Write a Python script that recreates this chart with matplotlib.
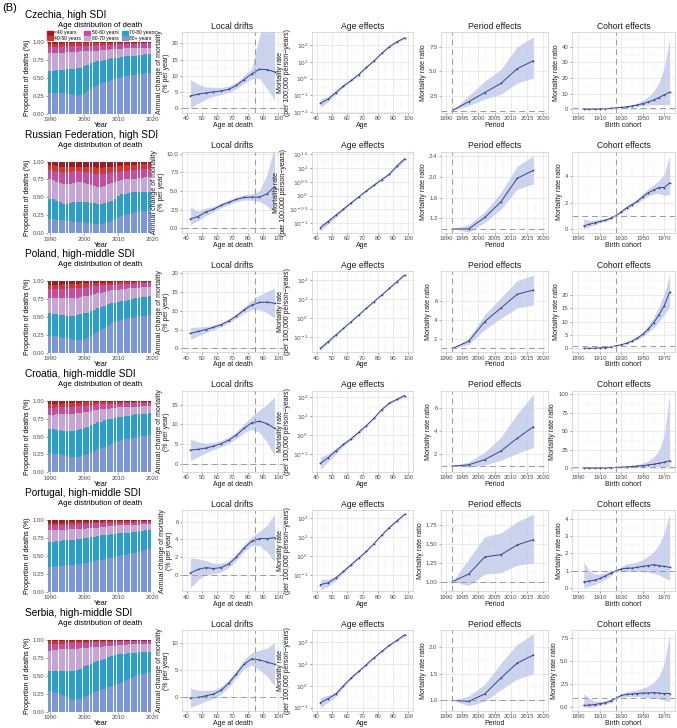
import numpy as np
import matplotlib.pyplot as plt
from matplotlib.ticker import FixedLocator, AutoMinorLocator
from matplotlib.patches import Patch

plt.rcParams['font.family'] = ['Liberation Sans', 'DejaVu Sans']

# ---------------- data ----------------
years = list(range(1990, 2020))
ages = [42.5, 47.5, 52.5, 57.5, 62.5, 67.5, 72.5, 77.5, 82.5, 87.5, 92.5, 97.5]
periods = [1992, 1997, 2002, 2007, 2012, 2017]
cohorts = [1895, 1900, 1905, 1910, 1915, 1920, 1925, 1930, 1935, 1940,
           1945, 1950, 1955, 1960, 1965, 1970, 1975]
age_groups = ['<40 years', '40-50 years', '50-60 years', '60-70 years', '70-80 years', '80+ years']
group_colors = ['#9b1c22', '#d9312d', '#c94b9e', '#c7a5d9', '#2a9fca', '#7c97d9']

countries = ['Czechia, high SDI', 'Russian Federation, high SDI', 'Poland, high-middle SDI',
             'Croatia, high-middle SDI', 'Portugal, high-middle SDI', 'Serbia, high-middle SDI']

# cumulative share of deaths at age >= 80, >= 70, >= 60, >= 50, >= 40
cz_80 = [0.28,0.28,0.28,0.28,0.28,0.28,0.27,0.26,0.25,0.26,0.28,0.31,0.34,0.37,0.40,0.42,0.44,0.46,0.47,0.48,0.50,0.51,0.52,0.53,0.54,0.54,0.55,0.55,0.56,0.56]
cz_70 = [0.60,0.60,0.61,0.61,0.61,0.62,0.62,0.62,0.63,0.64,0.66,0.68,0.70,0.72,0.73,0.74,0.75,0.76,0.77,0.78,0.78,0.79,0.80,0.80,0.81,0.81,0.82,0.82,0.83,0.83]
cz_60 = [0.85,0.85,0.85,0.85,0.85,0.86,0.86,0.86,0.86,0.87,0.87,0.87,0.88,0.88,0.88,0.89,0.89,0.89,0.90,0.90,0.90,0.90,0.91,0.91,0.91,0.91,0.92,0.92,0.92,0.92]
cz_50 = [0.93,0.93,0.93,0.93,0.94,0.94,0.94,0.94,0.94,0.95,0.95,0.95,0.95,0.95,0.96,0.96,0.96,0.96,0.96,0.96,0.97,0.97,0.97,0.97,0.97,0.97,0.97,0.97,0.98,0.98]
cz_40 = [0.97,0.97,0.97,0.97,0.98,0.98,0.98,0.98,0.98,0.98,0.98,0.98,0.98,0.98,0.98,0.98,0.99,0.99,0.99,0.99,0.99,0.99,0.99,0.99,0.99,0.99,0.99,0.99,0.99,0.99]

ru_80 = [0.20,0.20,0.19,0.19,0.18,0.17,0.17,0.16,0.16,0.15,0.15,0.14,0.14,0.13,0.13,0.13,0.14,0.15,0.17,0.19,0.22,0.24,0.26,0.27,0.28,0.29,0.30,0.31,0.31,0.32]
ru_70 = [0.48,0.47,0.45,0.43,0.41,0.41,0.42,0.43,0.44,0.44,0.43,0.43,0.42,0.42,0.41,0.41,0.42,0.43,0.45,0.48,0.52,0.54,0.55,0.56,0.57,0.57,0.58,0.58,0.58,0.58]
ru_60 = [0.75,0.74,0.72,0.70,0.68,0.68,0.69,0.70,0.71,0.71,0.70,0.69,0.67,0.66,0.65,0.64,0.66,0.68,0.70,0.72,0.73,0.74,0.75,0.75,0.76,0.76,0.77,0.77,0.78,0.78]
ru_50 = [0.88,0.87,0.86,0.85,0.84,0.85,0.86,0.87,0.87,0.87,0.86,0.85,0.84,0.83,0.83,0.82,0.83,0.84,0.85,0.86,0.86,0.87,0.87,0.87,0.88,0.88,0.88,0.89,0.89,0.89]
ru_40 = [0.95,0.95,0.94,0.93,0.92,0.92,0.93,0.93,0.93,0.93,0.93,0.92,0.92,0.92,0.91,0.91,0.92,0.92,0.93,0.93,0.94,0.94,0.95,0.95,0.95,0.95,0.96,0.96,0.96,0.96]

pl_80 = [0.25,0.24,0.23,0.22,0.21,0.20,0.19,0.18,0.18,0.18,0.19,0.21,0.23,0.26,0.29,0.32,0.35,0.38,0.41,0.43,0.45,0.46,0.47,0.48,0.49,0.50,0.51,0.52,0.52,0.53]
pl_70 = [0.55,0.54,0.54,0.53,0.53,0.52,0.52,0.52,0.53,0.54,0.55,0.56,0.58,0.60,0.62,0.64,0.66,0.68,0.69,0.70,0.71,0.72,0.73,0.74,0.75,0.76,0.77,0.78,0.78,0.79]
pl_60 = [0.77,0.77,0.77,0.76,0.76,0.76,0.76,0.77,0.77,0.78,0.79,0.80,0.81,0.82,0.83,0.84,0.85,0.86,0.87,0.88,0.88,0.89,0.89,0.90,0.90,0.91,0.91,0.92,0.92,0.92]
pl_50 = [0.89,0.89,0.89,0.89,0.89,0.89,0.90,0.90,0.90,0.91,0.91,0.92,0.92,0.93,0.93,0.94,0.94,0.95,0.95,0.95,0.96,0.96,0.96,0.96,0.96,0.97,0.97,0.97,0.97,0.97]
pl_40 = [0.95,0.95,0.95,0.95,0.96,0.96,0.96,0.96,0.96,0.97,0.97,0.97,0.97,0.98,0.98,0.98,0.98,0.98,0.98,0.99,0.99,0.99,0.99,0.99,0.99,0.99,0.99,0.99,0.99,0.99]

hr_80 = [0.27,0.26,0.26,0.25,0.24,0.23,0.22,0.22,0.22,0.23,0.24,0.26,0.28,0.30,0.32,0.34,0.36,0.38,0.40,0.42,0.44,0.45,0.46,0.47,0.48,0.49,0.50,0.51,0.51,0.52]
hr_70 = [0.60,0.60,0.59,0.59,0.58,0.58,0.58,0.58,0.59,0.60,0.62,0.64,0.66,0.68,0.70,0.71,0.73,0.74,0.75,0.76,0.77,0.78,0.79,0.79,0.80,0.81,0.81,0.82,0.82,0.83]
hr_60 = [0.80,0.80,0.81,0.81,0.81,0.82,0.82,0.82,0.83,0.83,0.84,0.85,0.86,0.87,0.87,0.88,0.89,0.89,0.90,0.90,0.91,0.91,0.91,0.92,0.92,0.92,0.92,0.93,0.93,0.93]
hr_50 = [0.90,0.90,0.91,0.91,0.91,0.92,0.92,0.92,0.93,0.93,0.93,0.94,0.94,0.94,0.95,0.95,0.95,0.96,0.96,0.96,0.96,0.96,0.97,0.97,0.97,0.97,0.97,0.97,0.97,0.97]
hr_40 = [0.96,0.96,0.96,0.96,0.97,0.97,0.97,0.97,0.97,0.97,0.98,0.98,0.98,0.98,0.98,0.98,0.98,0.98,0.99,0.99,0.99,0.99,0.99,0.99,0.99,0.99,0.99,0.99,0.99,0.99]

pt_80 = [0.35,0.35,0.36,0.36,0.37,0.37,0.38,0.38,0.39,0.39,0.40,0.41,0.42,0.43,0.44,0.45,0.46,0.47,0.48,0.49,0.50,0.51,0.52,0.53,0.54,0.55,0.56,0.57,0.59,0.60]
pt_70 = [0.70,0.70,0.71,0.71,0.72,0.72,0.73,0.73,0.74,0.74,0.75,0.76,0.77,0.77,0.78,0.79,0.79,0.80,0.81,0.81,0.82,0.82,0.83,0.83,0.84,0.84,0.85,0.85,0.86,0.86]
pt_60 = [0.86,0.86,0.86,0.87,0.87,0.87,0.88,0.88,0.88,0.88,0.88,0.89,0.89,0.90,0.90,0.91,0.91,0.92,0.92,0.92,0.93,0.93,0.93,0.94,0.94,0.94,0.94,0.95,0.95,0.95]
pt_50 = [0.93,0.93,0.93,0.94,0.94,0.94,0.94,0.94,0.95,0.95,0.95,0.95,0.95,0.96,0.96,0.96,0.96,0.96,0.97,0.97,0.97,0.97,0.97,0.97,0.97,0.98,0.98,0.98,0.98,0.98]
pt_40 = [0.97,0.97,0.97,0.97,0.97,0.97,0.98,0.98,0.98,0.98,0.98,0.98,0.98,0.98,0.98,0.98,0.99,0.99,0.99,0.99,0.99,0.99,0.99,0.99,0.99,0.99,0.99,0.99,0.99,0.99]

rs_80 = [0.28,0.27,0.26,0.24,0.22,0.20,0.18,0.16,0.17,0.18,0.20,0.22,0.25,0.27,0.29,0.31,0.32,0.34,0.36,0.37,0.38,0.40,0.43,0.45,0.47,0.49,0.52,0.53,0.54,0.55]
rs_70 = [0.57,0.57,0.57,0.57,0.57,0.57,0.57,0.57,0.58,0.60,0.63,0.65,0.67,0.69,0.71,0.72,0.74,0.76,0.77,0.79,0.80,0.81,0.81,0.82,0.82,0.82,0.83,0.83,0.83,0.83]
rs_60 = [0.85,0.86,0.86,0.87,0.87,0.87,0.88,0.88,0.88,0.89,0.89,0.89,0.90,0.90,0.90,0.90,0.91,0.91,0.92,0.92,0.93,0.93,0.93,0.94,0.94,0.94,0.95,0.95,0.95,0.95]
rs_50 = [0.95,0.95,0.95,0.95,0.95,0.96,0.96,0.96,0.96,0.96,0.96,0.96,0.97,0.97,0.97,0.97,0.97,0.97,0.97,0.98,0.98,0.98,0.98,0.98,0.98,0.98,0.98,0.98,0.98,0.98]
rs_40 = [0.98,0.98,0.98,0.98,0.98,0.98,0.98,0.98,0.98,0.98,0.98,0.99,0.99,0.99,0.99,0.99,0.99,0.99,0.99,0.99,0.99,0.99,0.99,0.99,0.99,0.99,0.99,0.99,0.99,0.99]

# local drifts (% per year): estimate, lower, upper
cz_drift = [3.8,4.3,4.7,5.0,5.3,5.8,7.0,8.8,10.6,12.0,11.9,11.2]
cz_drift_lo = [0.0,1.5,2.8,3.6,4.2,4.8,6.0,7.6,9.0,9.3,6.0,2.5]
cz_drift_hi = [8.8,7.4,6.6,6.4,6.4,6.8,8.0,10.0,12.3,22.0,30.0,35.0]
ru_drift = [1.24,1.56,2.18,2.53,3.07,3.47,3.87,4.13,4.18,4.18,4.6,5.6]
ru_drift_lo = [0.44,1.0,1.7,2.2,2.75,3.15,3.55,3.8,3.75,3.6,3.0,2.0]
ru_drift_hi = [2.8,2.3,2.7,2.9,3.4,3.8,4.2,4.5,4.6,5.0,7.2,11.0]
pl_drift = [4.0,4.5,5.0,5.6,6.3,7.3,8.6,10.2,11.5,12.2,12.3,12.0]
pl_drift_lo = [2.5,3.3,4.2,5.0,5.8,6.8,8.0,9.4,10.3,10.3,9.5,8.0]
pl_drift_hi = [5.5,5.7,5.8,6.2,6.8,7.8,9.2,11.0,12.7,14.1,15.1,16.0]
hr_drift = [3.5,3.7,4.0,4.5,5.1,6.0,7.3,9.0,10.4,10.8,10.2,9.0]
hr_drift_lo = [0.8,1.8,2.8,3.6,4.3,5.2,6.4,7.9,8.8,8.0,5.5,2.0]
hr_drift_hi = [6.2,5.6,5.2,5.4,5.9,6.8,8.2,10.1,12.0,13.6,15.0,17.0]
pt_drift = [0.2,0.6,0.8,0.7,0.8,1.2,2.0,3.0,3.8,4.1,4.1,4.2]
pt_drift_lo = [-1.5,-0.6,0.0,0.1,0.3,0.8,1.6,2.6,3.3,3.3,2.6,1.5]
pt_drift_hi = [1.9,1.8,1.6,1.3,1.3,1.6,2.4,3.4,4.3,4.9,5.6,6.9]
rs_drift = [-0.2,-0.1,0.2,0.5,1.2,2.5,4.2,6.0,7.0,6.8,6.4,6.0]
rs_drift_lo = [-2.0,-1.4,-0.8,-0.3,0.5,1.8,3.5,5.2,5.9,5.0,3.8,2.0]
rs_drift_hi = [1.6,1.2,1.2,1.3,1.9,3.2,4.9,6.8,8.1,8.6,9.0,10.0]

# age effects (mortality per 100,000 person-years)
cz_age = [0.034,0.060,0.148,0.363,0.776,1.74,4.68,11.5,32.4,79.4,158,269]
cz_age_lo = [0.019,0.042,0.115,0.30,0.66,1.52,4.15,10.3,29.5,72,140,230]
cz_age_hi = [0.060,0.086,0.19,0.44,0.91,1.99,5.27,12.8,35.6,87,178,315]
ru_age = [0.068,0.112,0.19,0.32,0.54,0.89,1.48,2.40,3.80,6.0,12.0,21.4]
ru_age_lo = [0.050,0.090,0.16,0.28,0.49,0.82,1.37,2.22,3.50,5.4,10.4,17.8]
ru_age_hi = [0.092,0.140,0.22,0.36,0.59,0.97,1.60,2.60,4.12,6.7,13.8,25.7]
pl_age = [0.025,0.056,0.126,0.28,0.63,1.41,3.2,7.1,15.8,35.5,79,178]
pl_age_lo = [0.019,0.047,0.11,0.26,0.59,1.33,3.0,6.7,14.9,33.4,73,161]
pl_age_hi = [0.033,0.067,0.14,0.30,0.67,1.50,3.4,7.5,16.8,37.7,85,196]
hr_age = [0.032,0.063,0.141,0.32,0.63,1.41,3.2,7.9,22.4,50,79,126]
hr_age_lo = [0.015,0.040,0.10,0.25,0.53,1.22,2.8,7.0,20.0,44,68,100]
hr_age_hi = [0.068,0.10,0.20,0.41,0.75,1.63,3.6,8.9,25.1,57,92,158]
pt_age = [0.032,0.040,0.071,0.158,0.355,0.79,1.78,4.5,12.6,31.6,71,158]
pt_age_lo = [0.017,0.026,0.053,0.13,0.31,0.71,1.62,4.1,11.5,28.8,63,135]
pt_age_hi = [0.060,0.062,0.095,0.19,0.41,0.88,1.95,4.9,13.8,34.7,80,185]
rs_age = [0.17,0.26,0.42,1.0,2.29,4.57,9.3,19.1,37.2,70.8,120,214]
rs_age_lo = [0.10,0.18,0.32,0.85,2.0,4.1,8.5,17.6,34.5,65,108,180]
rs_age_hi = [0.29,0.37,0.55,1.18,2.6,5.1,10.2,20.7,40.1,77,134,254]

# period effects (rate ratio vs 1992)
cz_per = [1.0,1.9,2.83,3.77,5.27,6.07]
cz_per_lo = [1.0,1.5,2.17,2.67,3.8,4.3]
cz_per_hi = [1.0,2.5,4.0,5.2,7.5,8.5]
ru_per = [1.0,1.0,1.22,1.52,1.97,2.12]
ru_per_lo = [1.0,0.94,1.12,1.38,1.76,1.86]
ru_per_hi = [1.0,1.08,1.33,1.70,2.20,2.40]
pl_per = [1.0,1.75,3.85,5.3,6.75,7.2]
pl_per_lo = [1.0,1.4,3.0,4.2,5.3,5.6]
pl_per_hi = [1.0,2.1,4.6,6.4,8.2,8.8]
hr_per = [1.0,1.1,1.55,2.3,3.4,4.4]
hr_per_lo = [1.0,0.9,1.1,1.5,2.1,2.6]
hr_per_hi = [1.0,1.35,2.2,3.5,5.5,7.2]
pt_per = [1.0,1.1,1.33,1.36,1.49,1.56]
pt_per_lo = [1.0,0.95,1.1,1.12,1.22,1.25]
pt_per_hi = [1.0,1.3,1.6,1.65,1.8,1.9]
rs_per = [1.0,0.98,1.12,1.42,1.7,1.85]
rs_per_lo = [1.0,0.9,0.98,1.2,1.4,1.5]
rs_per_hi = [1.0,1.08,1.3,1.7,2.05,2.25]

# cohort effects (rate ratio vs 1925)
cz_coh = [0.1,0.15,0.25,0.35,0.5,0.7,1.0,1.3,1.7,2.2,2.9,3.7,4.7,6.0,7.6,9.3,11.0]
cz_coh_lo = [0.0,0.05,0.1,0.2,0.35,0.55,1.0,1.1,1.4,1.7,2.1,2.5,2.8,3.0,3.1,3.1,3.0]
cz_coh_hi = [0.4,0.45,0.5,0.6,0.7,0.85,1.0,1.5,2.1,2.9,4.1,5.7,8.0,11.5,17,27,45]
ru_coh = [0.22,0.33,0.45,0.55,0.65,0.8,1.0,1.3,1.6,1.85,2.1,2.45,2.75,2.95,3.15,3.15,3.5]
ru_coh_lo = [0.0,0.15,0.3,0.45,0.55,0.72,1.0,1.2,1.45,1.7,1.95,2.25,2.5,2.65,2.7,2.55,2.6]
ru_coh_hi = [0.8,0.6,0.65,0.7,0.78,0.9,1.0,1.4,1.75,2.0,2.3,2.7,3.05,3.35,3.7,4.2,5.6]
pl_coh = [0.05,0.08,0.12,0.2,0.3,0.55,1.0,1.4,2.0,2.8,3.9,5.3,7.2,9.5,12.5,16.0,21.0]
pl_coh_lo = [0.0,0.02,0.05,0.12,0.22,0.45,1.0,1.2,1.7,2.4,3.3,4.5,6.0,7.8,10.0,12.5,15.5]
pl_coh_hi = [0.3,0.25,0.25,0.3,0.4,0.65,1.0,1.6,2.3,3.2,4.5,6.2,8.5,11.5,15.5,20.5,27.5]
hr_coh = [0.1,0.15,0.2,0.3,0.45,0.7,1.0,1.3,1.7,2.2,2.8,3.5,4.3,5.3,6.5,8.0,10.0]
hr_coh_lo = [0.0,0.0,0.05,0.1,0.25,0.5,1.0,1.0,1.2,1.4,1.6,1.8,1.9,2.0,2.0,1.9,1.8]
hr_coh_hi = [3.0,2.0,1.5,1.2,1.0,1.0,1.0,1.8,2.6,3.6,5.0,7.0,10.0,15.0,24.0,45.0,100.0]
pt_coh = [0.35,0.4,0.45,0.55,0.7,0.85,1.0,1.1,1.15,1.15,1.2,1.25,1.3,1.35,1.3,1.25,1.2]
pt_coh_lo = [0.0,0.1,0.2,0.35,0.5,0.7,1.0,0.95,0.95,0.95,0.95,0.95,0.9,0.85,0.75,0.6,0.45]
pt_coh_hi = [1.5,1.0,0.8,0.8,0.9,1.0,1.0,1.25,1.4,1.45,1.5,1.65,1.85,2.1,2.5,3.2,4.3]
rs_coh = [0.2,0.25,0.3,0.4,0.5,0.7,1.0,1.3,1.4,1.45,1.5,1.55,1.55,1.6,1.55,1.5,1.5]
rs_coh_lo = [0.0,0.0,0.1,0.2,0.3,0.5,1.0,1.1,1.15,1.15,1.15,1.1,1.05,1.0,0.9,0.75,0.6]
rs_coh_hi = [1.5,1.0,0.7,0.65,0.7,0.9,1.0,1.5,1.7,1.8,1.9,2.1,2.3,2.7,3.4,4.8,8.0]

rows = [
    dict(cum=[cz_80, cz_70, cz_60, cz_50, cz_40],
         drift=(cz_drift, cz_drift_lo, cz_drift_hi), drift_lim=(-1.5, 23.5), drift_ticks=[0, 5, 10, 15, 20],
         age=(cz_age, cz_age_lo, cz_age_hi), age_lim=(-2.05, 2.78), age_ticks=[-2, -1, 0, 1, 2],
         per=(cz_per, cz_per_lo, cz_per_hi), per_lim=(0.75, 9.0), per_ticks=[2.5, 5.0, 7.5],
         coh=(cz_coh, cz_coh_lo, cz_coh_hi), coh_lim=(-2.3, 49.5), coh_ticks=[0, 10, 20, 30, 40]),
    dict(cum=[ru_80, ru_70, ru_60, ru_50, ru_40],
         drift=(ru_drift, ru_drift_lo, ru_drift_hi), drift_lim=(-0.6, 10.3), drift_ticks=[0, 2.5, 5, 7.5, 10],
         age=(ru_age, ru_age_lo, ru_age_hi), age_lim=(-1.35, 1.6), age_ticks=[-1, -0.5, 0, 0.5, 1, 1.5],
         per=(ru_per, ru_per_lo, ru_per_hi), per_lim=(0.93, 2.48), per_ticks=[1.2, 1.6, 2.0, 2.4],
         coh=(ru_coh, ru_coh_lo, ru_coh_hi), coh_lim=(-0.3, 5.9), coh_ticks=[0, 2, 4]),
    dict(cum=[pl_80, pl_70, pl_60, pl_50, pl_40],
         drift=(pl_drift, pl_drift_lo, pl_drift_hi), drift_lim=(-1.0, 20.5), drift_ticks=[0, 5, 10, 15, 20],
         age=(pl_age, pl_age_lo, pl_age_hi), age_lim=(-1.8, 2.45), age_ticks=[-1, 0, 1, 2],
         per=(pl_per, pl_per_lo, pl_per_hi), per_lim=(0.6, 9.2), per_ticks=[2, 4, 6],
         coh=(pl_coh, pl_coh_lo, pl_coh_hi), coh_lim=(-1.4, 28.8), coh_ticks=[0, 5, 10, 15, 20]),
    dict(cum=[hr_80, hr_70, hr_60, hr_50, hr_40],
         drift=(hr_drift, hr_drift_lo, hr_drift_hi), drift_lim=(-2.0, 18.5), drift_ticks=[0, 5, 10, 15],
         age=(hr_age, hr_age_lo, hr_age_hi), age_lim=(-1.95, 2.35), age_ticks=[-1, 0, 1, 2],
         per=(hr_per, hr_per_lo, hr_per_hi), per_lim=(0.5, 7.5), per_ticks=[2, 4, 6],
         coh=(hr_coh, hr_coh_lo, hr_coh_hi), coh_lim=(-5, 105), coh_ticks=[0, 25, 50, 75, 100]),
    dict(cum=[pt_80, pt_70, pt_60, pt_50, pt_40],
         drift=(pt_drift, pt_drift_lo, pt_drift_hi), drift_lim=(-1.9, 7.3), drift_ticks=[0, 2, 4, 6],
         age=(pt_age, pt_age_lo, pt_age_hi), age_lim=(-1.85, 2.4), age_ticks=[-1, 0, 1, 2],
         per=(pt_per, pt_per_lo, pt_per_hi), per_lim=(0.87, 1.95), per_ticks=[1.0, 1.25, 1.5, 1.75],
         coh=(pt_coh, pt_coh_lo, pt_coh_hi), coh_lim=(-0.2, 4.5), coh_ticks=[0, 1, 2, 3, 4]),
    dict(cum=[rs_80, rs_70, rs_60, rs_50, rs_40],
         drift=(rs_drift, rs_drift_lo, rs_drift_hi), drift_lim=(-2.6, 12.3), drift_ticks=[0, 5, 10],
         age=(rs_age, rs_age_lo, rs_age_hi), age_lim=(-1.15, 2.55), age_ticks=[-1, 0, 1, 2],
         per=(rs_per, rs_per_lo, rs_per_hi), per_lim=(0.8, 2.32), per_ticks=[1.0, 1.5, 2.0],
         coh=(rs_coh, rs_coh_lo, rs_coh_hi), coh_lim=(-0.4, 8.4), coh_ticks=[0, 2.5, 5, 7.5]),
]

# ---------------- drawing ----------------
W, H = 677, 728
fig = plt.figure(figsize=(W / 100, H / 100), dpi=100)

line_col = '#33458f'
band_col = '#c3cdea'
dash_col = '#9a9a9a'
txt_col = '#4d4d4d'


def add_ax(x0, y0, x1, y1):
    return fig.add_axes([x0 / W, 1 - y1 / H, (x1 - x0) / W, (y1 - y0) / H])


def style(ax):
    for s in ax.spines.values():
        s.set_color('#cccccc')
        s.set_linewidth(0.5)
    ax.grid(which='major', color='#e3e3e3', lw=0.5)
    ax.grid(which='minor', color='#f1f1f1', lw=0.35)
    ax.set_axisbelow(True)
    ax.tick_params(which='major', length=1.5, width=0.4, color='#555555',
                   labelsize=4.3, pad=1.0, labelcolor=txt_col)
    ax.tick_params(which='minor', length=0)


def panel(ax, x, est, lo, hi, title, xlabel, ylabel, log=False):
    ax.fill_between(x, lo, hi, color=band_col, lw=0, alpha=0.85)
    ax.plot(x, est, color=line_col, lw=0.7, marker='o', ms=1.3, mew=0)
    if log:
        ax.set_yscale('log')
    ax.set_title(title, fontsize=6.2, pad=2.5, color='#1a1a1a')
    ax.set_xlabel(xlabel, fontsize=5.0, labelpad=0.5, color='#1a1a1a')
    ax.set_ylabel(ylabel, fontsize=5.0, labelpad=1.5, color='#1a1a1a', linespacing=0.95)
    style(ax)


fig.text(2 / W, 1 - 8 / H, '(B)', fontsize=8, va='center', ha='left')

for r, (name, d) in enumerate(zip(countries, rows)):
    off = 119.6 * r
    fig.text(25 / W, 1 - (15 + off) / H, name, fontsize=7.3, va='center', ha='left')

    # --- age distribution of death ---
    ax = add_ax(48, 42 + off, 153, 113.5 + off)
    cum = [np.zeros(len(years))] + [np.array(c) for c in d['cum']] + [np.ones(len(years))]
    # bottom 80+ ... top <40
    for k in range(6):
        ax.bar(years, cum[k + 1] - cum[k], bottom=cum[k], width=0.82,
               color=group_colors[5 - k], lw=0)
    ax.set_xlim(1989.45, 2020.1)
    ax.set_ylim(0, 1)
    ax.set_xticks([1990, 2000, 2010, 2020])
    ax.set_yticks([0, 0.25, 0.5, 0.75, 1.0])
    ax.set_yticklabels(['0.00', '0.25', '0.50', '0.75', '1.00'])
    for s in ax.spines.values():
        s.set_visible(False)
    ax.tick_params(length=1.5, width=0.4, color='#555555', labelsize=4.3, pad=1.0, labelcolor=txt_col)
    ax.set_xlabel('Year', fontsize=5.0, labelpad=0)
    ax.set_ylabel('Proportion of deaths (%)', fontsize=5.0, labelpad=1.5)
    fig.text(100 / W, 1 - (25.5 + off) / H, 'Age distribution of death', fontsize=5.6,
             ha='center', va='center')

    if r == 0:
        handles = [Patch(color=c) for c in group_colors]
        fig.legend(handles, age_groups, ncol=3, loc='center left',
                   bbox_to_anchor=(47 / W, 1 - 35.5 / H), frameon=False, fontsize=3.6,
                   handlelength=1.2, handleheight=0.8, handletextpad=0.3,
                   columnspacing=0.6, labelspacing=0.05, borderpad=0, borderaxespad=0)

    # --- local drifts ---
    ax = add_ax(182, 32 + off, 283, 113 + off)
    panel(ax, ages, *d['drift'], 'Local drifts', 'Age at death',
          'Annual change of mortality\n(% per year)')
    ax.axhline(0, color=dash_col, lw=0.7, ls=(0, (6, 4)))
    ax.axvline(85, color=dash_col, lw=0.7, ls=(0, (6, 4)))
    ax.set_xlim(37, 103)
    ax.set_ylim(*d['drift_lim'])
    ax.set_xticks([40, 50, 60, 70, 80, 90, 100])
    ax.set_yticks(d['drift_ticks'])
    ax.xaxis.set_minor_locator(AutoMinorLocator(2))
    ax.yaxis.set_minor_locator(AutoMinorLocator(2))

    # --- age effects ---
    ax = add_ax(312, 32 + off, 413, 113 + off)
    panel(ax, ages, *d['age'], 'Age effects', 'Age',
          'Mortality rate\n(per 100,000 person\u2212years)', log=True)
    ax.set_xlim(37, 103)
    lo_e, hi_e = d['age_lim']
    ax.set_ylim(10 ** lo_e, 10 ** hi_e)
    et = d['age_ticks']
    ax.yaxis.set_major_locator(FixedLocator([10.0 ** e for e in et]))
    ax.set_yticks([10.0 ** e for e in et])
    ax.set_yticklabels(['$10^{%g}$' % e for e in et])
    step = et[1] - et[0]
    ax.yaxis.set_minor_locator(FixedLocator([10.0 ** (e + step / 2) for e in [et[0] - step] + et]))
    ax.set_xticks([40, 50, 60, 70, 80, 90, 100])
    ax.xaxis.set_minor_locator(AutoMinorLocator(2))

    # --- period effects ---
    ax = add_ax(441, 32 + off, 548, 113 + off)
    panel(ax, periods, *d['per'], 'Period effects', 'Period', 'Mortality rate ratio')
    ax.axhline(1, color=dash_col, lw=0.7, ls=(0, (6, 4)))
    ax.axvline(1992, color=dash_col, lw=0.7, ls=(0, (6, 4)))
    ax.set_xlim(1988.5, 2021.5)
    ax.set_ylim(*d['per_lim'])
    ax.set_xticks([1990, 1995, 2000, 2005, 2010, 2015, 2020])
    ax.set_yticks(d['per_ticks'])
    ax.xaxis.set_minor_locator(AutoMinorLocator(2))
    ax.yaxis.set_minor_locator(AutoMinorLocator(2))

    # --- cohort effects ---
    ax = add_ax(572, 32 + off, 675, 113 + off)
    panel(ax, cohorts, *d['coh'], 'Cohort effects', 'Birth cohort', 'Mortality rate ratio')
    ax.axhline(1, color=dash_col, lw=0.7, ls=(0, (6, 4)))
    ax.axvline(1925, color=dash_col, lw=0.7, ls=(0, (6, 4)))
    ax.set_xlim(1884, 1980)
    ax.set_ylim(*d['coh_lim'])
    ax.set_xticks([1890, 1910, 1930, 1950, 1970])
    ax.set_yticks(d['coh_ticks'])
    ax.xaxis.set_minor_locator(AutoMinorLocator(2))
    ax.yaxis.set_minor_locator(AutoMinorLocator(2))

fig.savefig('out.png', dpi=100)
